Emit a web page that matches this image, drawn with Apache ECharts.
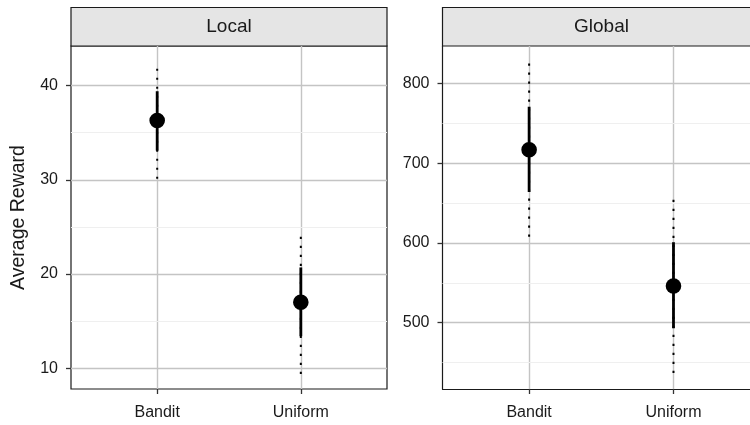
<!DOCTYPE html>
<html>
<head>
<meta charset="utf-8">
<script src="https://cdn.jsdelivr.net/npm/echarts@6/dist/echarts.min.js"></script>
<style>html,body{margin:0;padding:0;background:#fff}#c{width:750px;height:425px}</style>
</head>
<body>
<div id="c"></div>
<script>
// ---- data ----
var categories = ['Bandit', 'Uniform'];
var panels = ['Local', 'Global'];
// [outerLo, innerLo, mean, innerHi, outerHi]
var localBandit = [30.1, 33.1, 36.3, 39.4, 42.0];
var localUniform = [9.4, 13.4, 17.0, 20.7, 24.2];
var globalBandit = [608, 664, 717, 771, 828];
var globalUniform = [437, 493, 546, 601, 657];
var localTicks = [10, 20, 30, 40];
var localMinor = [15, 25, 35];
var globalTicks = [500, 600, 700, 800];
var globalMinor = [450, 550, 650, 750];
var localRange = [7.8, 44.2];
var globalRange = [416.8, 847.2];
// the Global panel is cut off at the right edge of the picture
var localXRange = [0.4, 2.6];
var globalXRange = [0.4, 2.53];

var chart = echarts.init(document.getElementById('c'));
var font = 'Liberation Sans, Arial, sans-serif';

function rows(a, b) {
  return [[1].concat(a), [2].concat(b)];
}

function renderItem(params, api) {
  var x = api.value(0);
  var pOL = api.coord([x, api.value(1)]);
  var pIL = api.coord([x, api.value(2)]);
  var pM = api.coord([x, api.value(3)]);
  var pIH = api.coord([x, api.value(4)]);
  var pOH = api.coord([x, api.value(5)]);
  return {
    type: 'group',
    children: [
      { type: 'line', shape: { x1: pOL[0], y1: pOL[1], x2: pOH[0], y2: pOH[1] },
        style: { stroke: '#000', lineWidth: 2, lineDash: [2.2, 6.8] } },
      { type: 'line', shape: { x1: pIL[0], y1: pIL[1], x2: pIH[0], y2: pIH[1] },
        style: { stroke: '#000', lineWidth: 2.8 } },
      { type: 'circle', shape: { cx: pM[0], cy: pM[1], r: 7.8 },
        style: { fill: '#000' } }
    ]
  };
}

function xAxis(idx, range, line) {
  return {
    type: 'value', gridIndex: idx, min: range[0], max: range[1],
    axisLine: { show: !!line, onZero: false, lineStyle: { color: '#1a1a1a', width: 1.2 } },
    axisTick: { show: true, customValues: [1, 2], length: 5, lineStyle: { color: '#333', width: 1.3 } },
    axisLabel: { customValues: [1, 2], color: '#1a1a1a', fontSize: 16, fontFamily: font, margin: 16,
      formatter: function (v) { return categories[Math.round(v) - 1] || ''; } },
    splitLine: { show: true, lineStyle: { color: '#c4c4c4', width: 1.4 } }
  };
}
function yAxis(idx, range, ticks, name, line) {
  return {
    type: 'value', gridIndex: idx, min: range[0], max: range[1],
    name: name || '', nameLocation: 'middle', nameGap: 42,
    nameTextStyle: { color: '#1a1a1a', fontSize: 19.5, fontFamily: font },
    axisLine: { show: !!line, onZero: false, lineStyle: { color: '#1a1a1a', width: 1.2 } },
    axisTick: { show: true, customValues: ticks, length: 5, lineStyle: { color: '#333', width: 1.3 } },
    axisLabel: { customValues: ticks, color: '#1a1a1a', fontSize: 16, fontFamily: font, margin: 13 },
    splitLine: { show: true, lineStyle: { color: '#c4c4c4', width: 1.4 } }
  };
}
function minorSeries(idx, vals) {
  return {
    type: 'line', xAxisIndex: idx, yAxisIndex: idx, data: [], silent: true, z: 0,
    markLine: { silent: true, symbol: 'none', label: { show: false },
      lineStyle: { color: '#efefef', width: 1, type: 'solid' },
      data: vals.map(function (v) { return { yAxis: v }; }) }
  };
}

var gridL = { left: 71, width: 316, top: 46, bottom: 36 };
var gridR = { left: 442.5, right: 0, top: 46, bottom: 36 };

chart.setOption({
  animation: false,
  grid: [
    Object.assign({ show: true, borderColor: '#1a1a1a', borderWidth: 1.2, backgroundColor: 'transparent' }, gridL),
    Object.assign({ show: false }, gridR)
  ],
  xAxis: [xAxis(0, localXRange, false), xAxis(1, globalXRange, true)],
  yAxis: [yAxis(0, localRange, localTicks, 'Average Reward', false), yAxis(1, globalRange, globalTicks, '', true)],
  graphic: [
    { type: 'rect', shape: { x: 71, y: 7.5, width: 316, height: 38.5 },
      style: { fill: '#e5e5e5', stroke: '#1a1a1a', lineWidth: 1.2 } },
    { type: 'text', x: 229, y: 27, style: { text: panels[0], fill: '#1a1a1a', font: '19px ' + font, align: 'center', verticalAlign: 'middle' } },
    { type: 'rect', shape: { x: 442.5, y: 7.5, width: 320, height: 38.5 },
      style: { fill: '#e5e5e5', stroke: '#1a1a1a', lineWidth: 1.2 } },
    { type: 'text', x: 601.5, y: 27, style: { text: panels[1], fill: '#1a1a1a', font: '19px ' + font, align: 'center', verticalAlign: 'middle' } }
  ],
  series: [
    minorSeries(0, localMinor),
    minorSeries(1, globalMinor),
    { type: 'custom', xAxisIndex: 0, yAxisIndex: 0, renderItem: renderItem, data: rows(localBandit, localUniform), z: 5 },
    { type: 'custom', xAxisIndex: 1, yAxisIndex: 1, renderItem: renderItem, data: rows(globalBandit, globalUniform), z: 5 }
  ]
});
</script>
</body>
</html>
